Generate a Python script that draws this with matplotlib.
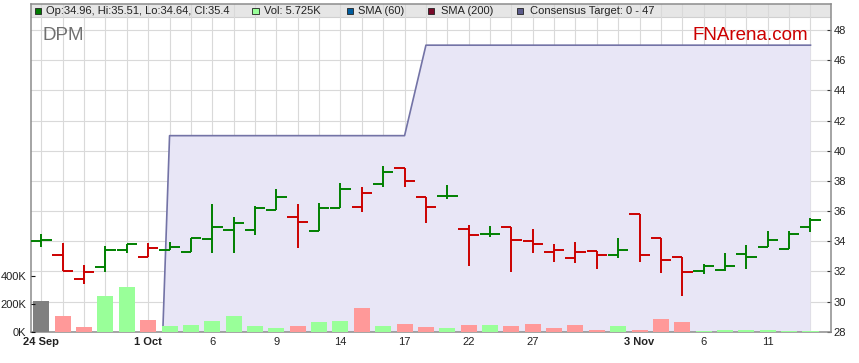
import matplotlib
matplotlib.use("Agg")
import matplotlib.pyplot as plt
from matplotlib.patches import Rectangle

plt.rcParams["font.family"] = ["Liberation Sans", "DejaVu Sans"]

# ── data (trading days 24 Sep .. 13 Nov) ─────────────────────────
day_idx = list(range(37))
tick_pos = [0, 5, 8, 11, 14, 17, 20, 23, 28, 31, 34]
tick_labels = ["24 Sep", "1 Oct", "6", "9", "14", "17", "22", "27", "3 Nov", "6", "11"]

opens = [34.00, 33.07, 31.47, 32.29, 33.40, 32.93, 33.40, 33.27, 34.13, 34.72,
         34.72, 36.05, 35.59, 34.66, 36.18, 36.25, 37.77, 38.84, 36.91, 36.98,
         34.79, 34.48, 34.92, 33.99, 33.27, 32.87, 33.33, 33.07, 35.78, 34.19,
         32.93, 32.00, 32.07, 33.13, 33.60, 33.46, 34.96]
highs = [34.46, 33.86, 32.42, 33.66, 33.83, 33.86, 33.93, 34.19, 36.47, 35.59,
         36.32, 37.46, 36.47, 36.53, 37.86, 37.60, 38.99, 38.84, 36.91, 37.73,
         35.07, 35.00, 34.92, 34.81, 33.82, 33.95, 33.33, 34.19, 35.78, 34.19,
         32.93, 32.47, 33.22, 33.73, 34.66, 34.66, 35.51]
lows = [33.64, 32.00, 31.18, 31.98, 33.24, 32.93, 33.40, 33.27, 33.24, 33.24,
        34.43, 36.05, 33.57, 34.66, 36.18, 35.96, 37.62, 37.62, 35.23, 36.82,
        32.38, 34.30, 31.98, 33.24, 32.64, 32.58, 32.18, 32.91, 32.64, 31.91,
        30.39, 31.85, 32.00, 32.18, 33.60, 33.46, 34.64]
closes = [34.05, 32.00, 31.94, 33.40, 33.79, 33.58, 33.62, 34.19, 34.92, 35.19,
          36.18, 36.91, 35.25, 36.18, 37.44, 37.18, 38.57, 37.97, 36.25, 36.98,
          34.39, 34.48, 34.06, 33.79, 33.40, 33.27, 33.07, 33.40, 33.07, 32.73,
          31.94, 32.34, 32.36, 32.93, 34.06, 34.48, 35.40]
volume_k = [221, 114, 36, 257, 321, 86, 43, 50, 79, 114,
            43, 29, 43, 71, 79, 171, 43, 57, 36, 29,
            50, 50, 43, 57, 29, 50, 14, 43, 14, 93,
            71, 7, 14, 14, 14, 7, 5.725]
# consensus target (0 until 1 Oct, then 41, then 47)
target = [0] * 6 + [41] * 12 + [47] * 19

price_ticks = list(range(28, 49, 2))
vol_ticks = [0, 200, 400]
vol_labels = ["0K", "200K", "400K"]

UP = "#008000"
DOWN = "#CC0000"
VOL_UP = "#99FF99"
VOL_DOWN = "#FF9999"
VOL_FIRST = "#808080"

W_PX, H_PX = 859, 363


def px(x, y):
    return x / W_PX, 1 - y / H_PX


# colour each day by close vs previous close
bar_col = [UP]
vol_col = [VOL_FIRST]
for i in range(1, len(closes)):
    up = closes[i] >= closes[i - 1]
    bar_col.append(UP if up else DOWN)
    vol_col.append(VOL_UP if up else VOL_DOWN)

fig = plt.figure(figsize=(W_PX / 100, H_PX / 100), dpi=100)
left, right, top, bottom = 30.7, 831, 4, 331.7
ax = fig.add_axes([left / W_PX, 1 - bottom / H_PX,
                   (right - left) / W_PX, (bottom - top) / H_PX])
ax_v = ax.twinx()   # volume, left scale
ax_o = ax.twinx()   # OHLC bars drawn on top

# ── price axis: grid, legend strip, consensus target ───────────
ax.set_xlim(-0.5, 36.96)
ax.set_ylim(28, 49.73)
ax.set_axisbelow(True)
ax.set_xticks(day_idx, minor=True)
ax.set_xticks(tick_pos)
ax.set_xticklabels(tick_labels, fontsize=8, color="#222222")
for lab in ax.get_xticklabels():
    if " " in lab.get_text():
        lab.set_fontweight("bold")
ax.tick_params(axis="x", which="both", length=0, pad=3.5)
ax.grid(True, which="both", axis="x", color="#D9D9D9", lw=0.8)
ax.grid(True, axis="y", color="#D9D9D9", lw=0.8)
ax.set_yticks(price_ticks)
ax.yaxis.tick_right()
ax.tick_params(axis="y", direction="in", length=3, width=0.8,
               color="#333333", labelsize=8, labelcolor="#222222", pad=2)

ax.axhspan(48.87, 49.73, color="#E6E6E6", zorder=0.1, lw=0)
ax.axhline(48.87, color="#D0D0D0", lw=0.8, zorder=0.2)

ax.fill_between(day_idx, 0, target, color="#E8E6F6", lw=0, zorder=1)
ax.plot(day_idx, target, color="#7373A6", lw=1.2, zorder=2)

for s in ax.spines.values():
    s.set_color("#8C8C8C")
    s.set_linewidth(1.1)

# ── volume (left axis) ───────────────────────────────────────────
ax_v.set_ylim(0, 2340)
ax_v.bar(day_idx, volume_k, width=0.75, color=vol_col, lw=0)
ax_v.yaxis.tick_left()
ax_v.set_yticks(vol_ticks)
ax_v.set_yticklabels(vol_labels)
ax_v.tick_params(axis="y", direction="in", length=3, width=0.8,
                 color="#111111", labelsize=8, labelcolor="#222222", pad=3)
for s in ax_v.spines.values():
    s.set_visible(False)

# ── OHLC bars ────────────────────────────────────────────────────
ax_o.set_ylim(ax.get_ylim())
ax_o.set_yticks([])
for s in ax_o.spines.values():
    s.set_visible(False)
tw = 0.48
ax_o.vlines(day_idx, lows, highs, colors=bar_col, lw=1.4)
ax_o.hlines(opens, [d - tw for d in day_idx], day_idx, colors=bar_col, lw=1.4)
ax_o.hlines(closes, day_idx, [d + tw for d in day_idx], colors=bar_col, lw=1.4)

# ── header strip legend + titles ─────────────────────────────────
legend = [
    (34.5, "#007A00", "Op:34.96, Hi:35.51, Lo:34.64, Cl:35.4", 46.5),
    (252.5, "#99FF99", "Vol: 5.725K", 264.5),
    (346.5, "#005C9E", "SMA (60)", 358),
    (427.5, "#7A0A2A", "SMA (200)", 440.5),
    (516.5, "#5C5C8C", "Consensus Target: 0 - 47", 529.5),
]
for sx, col, txt, tx in legend:
    x0, y0 = px(sx, 14)
    fig.add_artist(Rectangle((x0, y0), 6 / W_PX, 6 / H_PX, transform=fig.transFigure,
                             facecolor=col, edgecolor="#222222", lw=0.6))
    fig.text(*px(tx, 11), txt, fontsize=8, color="#222222", va="center", ha="left")

fig.text(*px(42, 40), "DPM", fontsize=13.5, color="#707070", va="baseline", ha="left")
fig.text(*px(808, 40), "FNArena.com", fontsize=13.5, color="#CC0000",
         va="baseline", ha="right")

plt.savefig("out.png", dpi=100)
plt.close()
